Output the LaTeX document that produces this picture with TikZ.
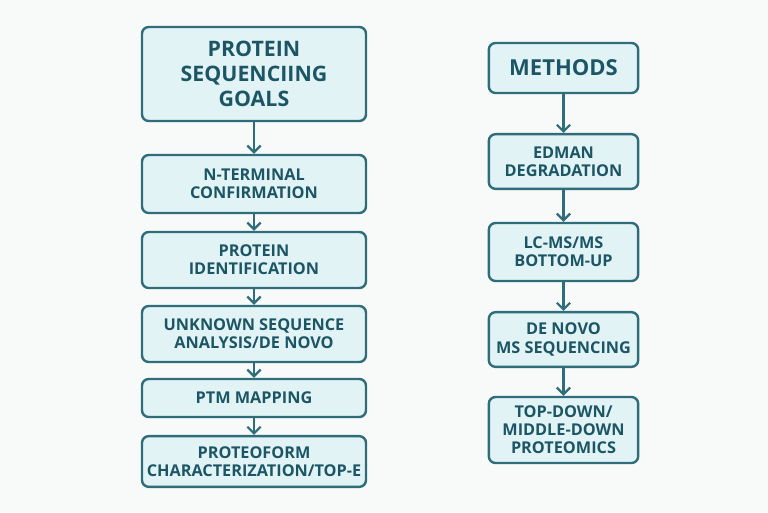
\documentclass[tikz,border=0pt]{standalone}
\usepackage{fontspec}
\setmainfont{Open Sans}
\usetikzlibrary{arrows.meta}
\definecolor{bordc}{HTML}{2F6D7A}
\definecolor{fillc}{HTML}{E2F3F6}
\definecolor{textc}{HTML}{1C5665}
\definecolor{bgc}{HTML}{F8FAFA}
\tikzset{
  box/.style={draw=bordc, fill=fillc, line width=1.8pt, rounded corners=5pt,
    inner sep=0pt, align=center, text=textc,
    font=\bfseries\fontsize{12.2}{13.6}\selectfont},
  lbox/.style={box, minimum width=168pt},
  rbox/.style={box, minimum width=112pt},
  bigtext/.style={font=\bfseries\fontsize{16}{18.8}\selectfont},
  arr/.style={draw=bordc, line width=1.7pt, -{Straight Barb[length=5pt,width=10pt,line width=1.7pt]}}
}
\begin{document}
\begin{tikzpicture}[x=0.75pt,y=-0.75pt]
\fill[bgc] (0,0) rectangle (768,512);
\useasboundingbox (0,0) rectangle (768,512);
% left column
\node[lbox, bigtext, minimum height=70.5pt] (g) at (254,74) {PROTEIN\\SEQUENCIING\\GOALS};
\node[lbox, minimum height=43.5pt] (nt) at (254,184) {N-TERMINAL\\CONFIRMATION};
\node[lbox, minimum height=42pt] (pi) at (254,260) {PROTEIN\\IDENTIFICATION};
\node[lbox, minimum height=42pt] (us) at (254,334) {UNKNOWN SEQUENCE\\ANALYSIS/DE NOVO};
\node[lbox, minimum height=28.5pt] (ptm) at (254,398) {PTM MAPPING};
\node[lbox, minimum height=38pt] (pf) at (254,461.5) {PROTEOFORM\\CHARACTERIZATION/TOP-E};
% right column
\node[rbox, font=\bfseries\fontsize{16.5}{18}\selectfont, minimum height=37.5pt] (m) at (563.5,68) {METHODS};
\node[rbox, minimum height=41pt] (ed) at (563.5,161.5) {EDMAN\\DEGRADATION};
\node[rbox, minimum height=43.5pt] (lc) at (563.5,252) {LC-MS/MS\\BOTTOM-UP};
\node[rbox, minimum height=41pt] (dn) at (563.5,339.5) {DE NOVO\\MS SEQUENCING};
\node[rbox, minimum height=49.5pt] (td) at (563.5,430) {TOP-DOWN/\\MIDDLE-DOWN\\PROTEOMICS};
% arrows
\draw[arr] (g) -- (nt);
\draw[arr] (nt) -- (pi);
\draw[arr] (pi) -- (us);
\draw[arr] (us) -- (ptm);
\draw[arr] (ptm) -- (pf);
\draw[arr] (m) -- (ed);
\draw[arr] (ed) -- (lc);
\draw[arr] (lc) -- (dn);
\draw[arr] (dn) -- (td);
\end{tikzpicture}
\end{document}
